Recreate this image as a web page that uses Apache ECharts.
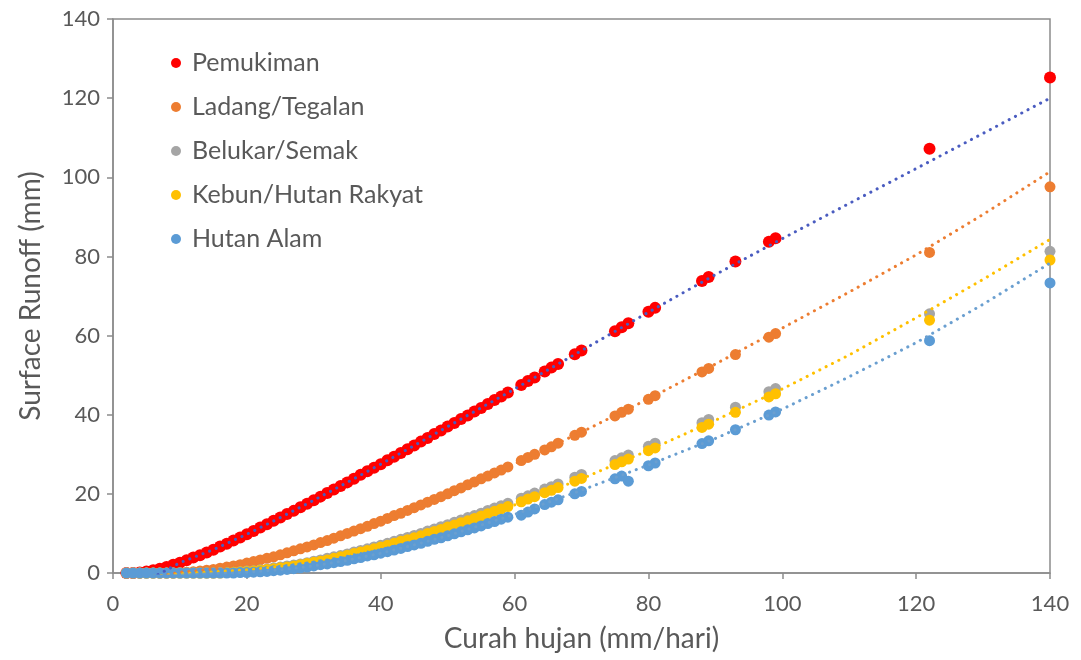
<!DOCTYPE html>
<html>
<head>
<meta charset="utf-8">
<script src="https://cdn.jsdelivr.net/npm/echarts@6/dist/echarts.min.js"></script>
<style>
html,body{margin:0;padding:0;background:#fff;}
#chart{width:1081px;height:660px;}
</style>
</head>
<body>
<div id="chart"></div>
<script>
// Rainfall (x, mm/hari)
const rain = [2,3,4,5,6,7,8,9,10,11,12,13,14,15,16,17,18,19,20,21,22,23,24,25,26,27,28,29,30,31,32,33,34,35,36,37,38,39,40,41,42,43,44,45,46,47,48,49,50,51,52,53,54,55,56,57,58,59,
  61,62,63,64.5,65.5,66.5,69,70,75,76,77,80,81,88,89,93,98,99,122,140];

const pemukiman = [0,0,0.1,0.4,0.7,1.1,1.5,2.1,2.6,3.2,3.9,4.5,5.2,5.9,6.7,7.4,8.2,9.0,9.8,10.6,11.5,12.3,13.2,14.0,14.9,15.7,16.6,17.5,18.4,19.3,20.2,21.1,22.0,22.9,23.8,24.8,25.7,26.6,27.5,28.5,29.4,30.3,31.3,32.2,33.2,34.1,35.1,36.0,37.0,37.9,38.9,39.8,40.8,41.7,42.7,43.7,44.6,45.6,
  47.5,48.5,49.4,50.9,51.9,52.8,55.3,56.2,61.1,62.1,63.1,66.0,67.0,73.8,74.8,78.7,83.7,84.6,107.2,125.2];

const ladang = [0,0,0,0,0,0,0,0,0.1,0.2,0.3,0.5,0.7,0.9,1.2,1.5,1.8,2.1,2.5,2.9,3.3,3.7,4.1,4.6,5.1,5.6,6.1,6.6,7.1,7.7,8.2,8.8,9.4,10.0,10.6,11.2,11.8,12.5,13.1,13.8,14.5,15.1,15.8,16.5,17.2,17.9,18.6,19.3,20.0,20.8,21.5,22.3,23.0,23.8,24.5,25.3,26.0,26.8,
  28.4,29.2,30.0,31.1,31.9,32.8,34.8,35.6,39.7,40.6,41.4,43.9,44.8,50.8,51.7,55.2,59.6,60.5,81.0,97.6];

const belukar = [0,0,0,0,0,0,0,0,0,0,0,0,0,0,0.1,0.1,0.2,0.3,0.5,0.6,0.8,1.0,1.3,1.5,1.8,2.0,2.3,2.6,3.0,3.3,3.7,4.1,4.4,4.8,5.3,5.7,6.1,6.6,7.0,7.5,8.0,8.5,9.0,9.5,10.0,10.6,11.1,11.7,12.2,12.8,13.4,14.0,14.5,15.1,15.8,16.4,17.0,17.6,
  18.9,19.5,20.2,21.2,21.8,22.5,24.2,24.9,28.4,29.1,29.8,32.0,32.8,38.0,38.8,41.9,45.8,46.6,65.5,81.3];

const kebun = [0,0,0,0,0,0,0,0,0,0,0,0,0,0,0,0.1,0.2,0.3,0.4,0.5,0.7,0.9,1.1,1.3,1.5,1.8,2.1,2.4,2.7,3.0,3.3,3.7,4.1,4.5,4.9,5.3,5.7,6.1,6.6,7.0,7.5,8.0,8.4,8.9,9.4,10.0,10.5,11.0,11.6,12.1,12.7,13.2,13.8,14.4,15.0,15.6,16.2,16.8,
  18.0,18.7,19.3,20.3,20.9,21.6,23.2,23.9,27.4,28.1,28.8,30.9,31.6,36.8,37.6,40.6,44.5,45.3,63.9,79.1];

const hutanAlam = [0,0,0,0,0,0,0,0,0,0,0,0,0,0,0,0,0,0.1,0.1,0.2,0.3,0.4,0.6,0.7,0.9,1.1,1.3,1.5,1.8,2.1,2.3,2.6,2.9,3.2,3.6,3.9,4.3,4.6,5.0,5.4,5.8,6.2,6.7,7.1,7.5,8.0,8.5,8.9,9.4,9.9,10.4,10.9,11.4,11.9,12.5,13.0,13.6,14.1,
  14.6,15.4,16.2,17.3,17.9,18.5,20.0,20.6,23.8,24.5,23.2,27.1,27.8,32.7,33.4,36.2,39.9,40.7,58.7,73.3];

// Trendlines
const trendX        = [2, 5, 10, 15, 20, 25, 30, 35, 40, 45, 50, 60, 70, 80, 90, 100, 110, 120, 130, 140];
const trendPemukiman= [-4.5, -2.0, 2.6, 5.9, 9.8, 14.0, 18.4, 22.9, 27.5, 32.2, 37.0, 46.5, 56.2, 65.9, 75.4, 84.5, 93.4, 102.2, 111.1, 120.0];
const trendLadang   = [-3.0, -1.5, 0.2, 1.0, 2.4, 4.5, 7.0, 9.9, 13.0, 16.4, 20.0, 27.6, 35.6, 44.0, 52.8, 61.9, 71.0, 80.4, 90.6, 101.4];
const trendKebun    = [-2.0, -1.0, -0.2, 0.3, 0.8, 1.7, 3.0, 4.6, 6.6, 8.9, 11.4, 17.2, 23.8, 31.0, 38.6, 46.5, 55.1, 64.5, 74.2, 84.3];
const trendHutan    = [-2.0, -1.0, -0.5, -0.2, 0.2, 0.8, 1.8, 3.2, 5.0, 7.1, 9.4, 14.8, 20.9, 27.3, 34.0, 41.4, 49.6, 58.2, 67.9, 78.3];

const names = ['Pemukiman','Ladang/Tegalan','Belukar/Semak','Kebun/Hutan Rakyat','Hutan Alam'];
const colors = ['#ff0000','#ed7d31','#a5a5a5','#ffc000','#5b9bd5'];
const yTicks = [0,20,40,60,80,100,120,140];
const xTicks = [0,20,40,60,80,100,120,140];

const pairs = (xs, ys) => xs.map((x, i) => [x, ys[i]]);
const FONT = 'Lato';
const axisCol = '#8c8c8c';
const txtCol = '#595959';

const scatterSets = [pemukiman, ladang, belukar, kebun, hutanAlam];
const series = scatterSets.map((ys, i) => ({
  name: names[i],
  type: 'scatter',
  data: pairs(rain, ys),
  symbol: 'circle',
  symbolSize: i === 0 ? 12 : 11,
  itemStyle: { color: colors[i], opacity: 1 },
  z: 2 + i,
  silent: true
}));

function trend(ys, color, z) {
  return {
    type: 'line',
    data: pairs(trendX, ys),
    showSymbol: false,
    smooth: false,
    clip: true,
    silent: true,
    z: z,
    lineStyle: { color: color, width: 3, type: [0.1, 7], cap: 'round' }
  };
}
series.push(trend(trendPemukiman, '#4a5cc0', 10));
series.push(trend(trendLadang, '#ed7d31', 10));
series.push(trend(trendKebun, '#ffc000', 10));
series.push(trend(trendHutan, '#6a9fd0', 10));

const chart = echarts.init(document.getElementById('chart'), null, { renderer: 'canvas' });
chart.setOption({
  animation: false,
  backgroundColor: '#ffffff',
  textStyle: { fontFamily: FONT },
  grid: { left: 113, right: 31, top: 19, bottom: 87, show: true, borderColor: axisCol, borderWidth: 1.5, containLabel: false },
  legend: {
    data: names.map((n) => ({ name: n, icon: 'circle' })),
    orient: 'vertical',
    left: 166,
    top: 45,
    itemWidth: 22,
    itemHeight: 10,
    itemGap: 18,
    textStyle: { fontFamily: FONT, fontSize: 25, color: txtCol, lineHeight: 26 },
    selectedMode: false
  },
  xAxis: {
    type: 'value', min: xTicks[0], max: xTicks[xTicks.length - 1], interval: 20,
    name: 'Curah hujan (mm/hari)', nameLocation: 'middle', nameGap: 52,
    nameTextStyle: { fontFamily: FONT, fontSize: 28, color: txtCol },
    axisLine: { show: true, lineStyle: { color: axisCol, width: 1.5 } },
    axisTick: { show: true, length: 6, lineStyle: { color: axisCol, width: 1.5 } },
    axisLabel: { fontFamily: FONT, fontSize: 22, color: txtCol, margin: 20 },
    splitLine: { show: false }
  },
  yAxis: {
    type: 'value', min: yTicks[0], max: yTicks[yTicks.length - 1], interval: 20,
    name: 'Surface Runoff (mm)', nameLocation: 'middle', nameGap: 68,
    nameTextStyle: { fontFamily: FONT, fontSize: 28, color: txtCol },
    axisLine: { show: true, lineStyle: { color: axisCol, width: 1.5 } },
    axisTick: { show: true, length: 6, lineStyle: { color: axisCol, width: 1.5 } },
    axisLabel: { fontFamily: FONT, fontSize: 22, color: txtCol, margin: 13 },
    splitLine: { show: false }
  },
  series: series
});
</script>
</body>
</html>
